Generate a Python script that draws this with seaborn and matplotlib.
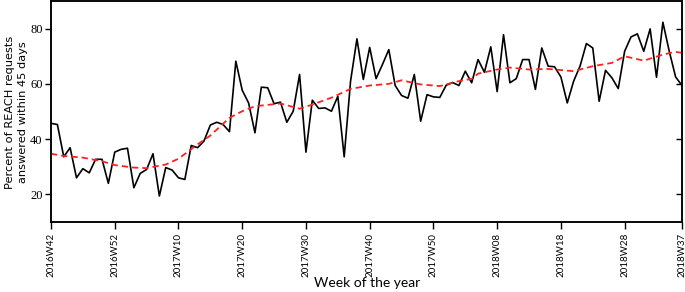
import matplotlib
matplotlib.use("Agg")
import matplotlib.pyplot as plt
import seaborn as sns
import pandas as pd

# weekly share (%) of REACH requests answered within 45 days, 2016W42 .. 2018W37
percent = [45.7, 45.3, 33.6, 36.9, 26.0, 29.3, 27.8, 32.7, 32.7, 24.0,
           35.3, 36.3, 36.7, 22.4, 27.6, 29.0, 34.7, 19.4, 29.7, 28.8,
           26.0, 25.4, 37.7, 36.9, 39.3, 45.1, 46.1, 45.3, 42.7, 68.2,
           57.7, 53.1, 42.3, 58.8, 58.6, 52.8, 53.4, 46.1, 50.1, 63.4,
           35.3, 54.1, 51.1, 51.3, 50.1, 55.5, 33.6, 61.0, 76.3, 61.6,
           73.2, 61.9, 67.0, 72.4, 59.4, 55.8, 54.8, 63.4, 46.5, 56.1,
           55.3, 55.1, 59.5, 60.5, 59.4, 64.6, 60.4, 68.8, 64.2, 73.4,
           57.2, 77.8, 60.4, 61.9, 68.8, 68.8, 58.0, 73.0, 66.4, 66.2,
           62.5, 53.1, 61.0, 66.4, 74.6, 73.0, 53.7, 64.9, 62.2, 58.3,
           71.8, 77.0, 78.1, 71.8, 79.9, 62.4, 82.3, 71.8, 62.5, 59.4]

# smoothed trend read at selected weeks (week index, value)
trend_week = [0, 2, 5, 8, 10, 13, 15, 18, 20, 23, 25, 28, 30, 32, 36, 39, 41,
              44, 47, 50, 53, 55, 58, 61, 64, 66, 67, 70, 72, 75, 78, 82, 85,
              88, 90, 93, 96, 98, 99]
trend_value = [34.7, 33.9, 33.3, 32.0, 30.6, 29.7, 29.5, 30.8, 32.9, 38.1,
               41.3, 47.7, 50.1, 51.9, 52.9, 51.0, 52.5, 55.0, 58.2, 59.4,
               60.0, 61.3, 59.8, 59.2, 61.0, 61.8, 63.7, 65.2, 65.9, 65.2,
               65.4, 64.6, 66.4, 67.6, 70.0, 68.4, 70.6, 71.6, 71.2]

tick_pos = [0, 10, 20, 30, 40, 50, 60, 70, 80, 90, 99]
tick_labels = ["2016W42", "2016W52", "2017W10", "2017W20", "2017W30",
               "2017W40", "2017W50", "2018W08", "2018W18", "2018W28",
               "2018W37"]
y_ticks = [20, 40, 60, 80]

df = pd.DataFrame({"week": range(len(percent)), "percent": percent})
dt = pd.DataFrame({"week": trend_week, "trend": trend_value})

fig = plt.figure(figsize=(6.85, 2.92), dpi=100)
ax = fig.add_axes([51 / 685, 1 - 222 / 292, 631 / 685, 221 / 292])

sns.lineplot(data=df, x="week", y="percent", ax=ax, color="black",
             linewidth=1.2, zorder=3)
sns.lineplot(data=dt, x="week", y="trend", ax=ax, color="#ff2020",
             linewidth=1.3, linestyle=(0, (3.5, 2.2)), zorder=4)

ax.set_xlim(0, 99)
ax.set_ylim(10, 90)
ax.set_xticks(tick_pos)
ax.set_xticklabels(tick_labels, rotation=90, family="Lato", fontsize=7)
ax.set_yticks(y_ticks)
ax.set_yticklabels([str(v) for v in y_ticks], family="Liberation Serif",
                   fontsize=9)
ax.tick_params(axis="x", direction="out", length=5, width=1.0, pad=3)
ax.tick_params(axis="y", direction="out", length=4, width=1.0, pad=2)

ax2 = ax.twinx()
ax2.set_ylim(10, 90)
ax2.set_yticks(y_ticks)
ax2.set_yticklabels([])
ax2.tick_params(axis="y", direction="in", length=4, width=1.0)

for a in (ax, ax2):
    for s in a.spines.values():
        s.set_linewidth(1.1)
        s.set_color("black")

ax.set_xlabel("")
ax.set_ylabel("")
fig.text(367 / 685, 1 - 283 / 292, "Week of the year", family="Lato",
         fontsize=10, ha="center", va="center")
fig.text(16.5 / 685, 1 - 112 / 292,
         "Percent of REACH requests\nanswered within 45 days",
         family="DejaVu Sans", fontsize=8.2, ha="center", va="center",
         rotation=90, linespacing=1.3, multialignment="center")

fig.savefig("out.png", dpi=100)
